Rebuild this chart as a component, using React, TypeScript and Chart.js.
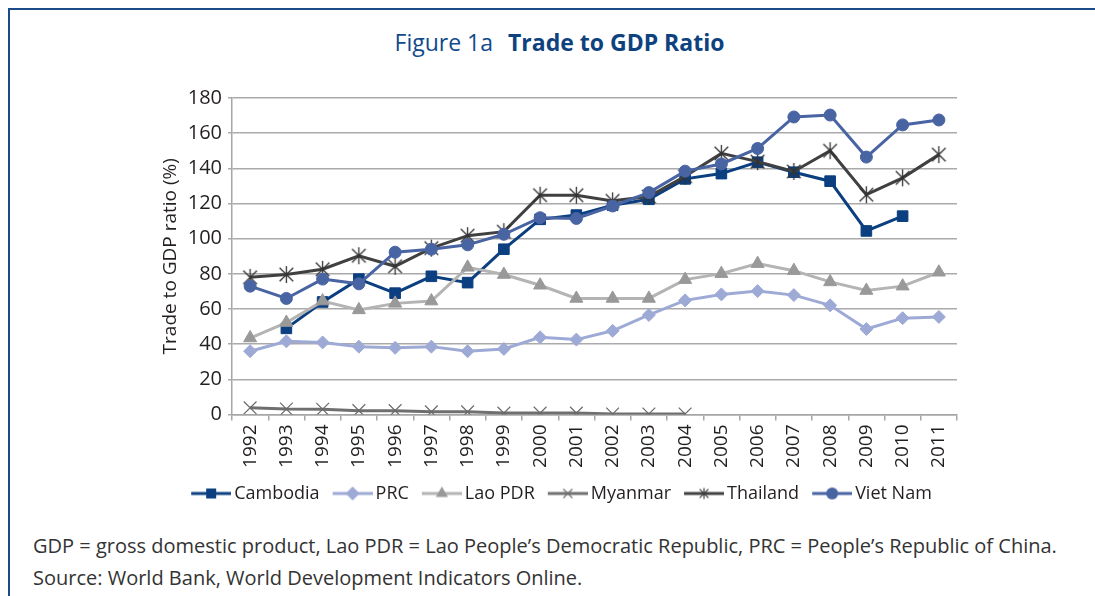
import React, { useEffect, useRef } from 'react';
import { Chart, registerables } from 'chart.js';

Chart.register(...registerables);

const years = ['1992', '1993', '1994', '1995', '1996', '1997', '1998', '1999', '2000', '2001', '2002', '2003', '2004', '2005', '2006', '2007', '2008', '2009', '2010', '2011'];

const cambodia = [null, 49, 64, 77, 69, 78.6, 75, 94, 111, 113.4, 119, 122.4, 134, 137, 143.5, 137.8, 132.7, 104.4, 112.8, null];
const prc = [36, 41.6, 41, 38.6, 37.9, 38.6, 36, 37.3, 43.9, 42.6, 47.6, 56.6, 64.9, 68.3, 70.2, 67.9, 62.1, 48.6, 54.8, 55.5];
const laoPdr = [43.5, 52.3, 64.5, 59.5, 63.2, 64.5, 83.7, 79.6, 73.5, 66, 66, 66, 76.7, 80.1, 85.8, 81.8, 75.4, 70.5, 73, 80.9];
const myanmar = [3.8, 3.1, 3.0, 2.2, 2.2, 1.5, 1.5, 0.8, 0.8, 0.8, 0.3, 0.3, 0.3, null, null, null, null, null, null, null];
const thailand = [78, 79.6, 82.6, 90.3, 84.3, 94.6, 101.7, 104, 124.7, 124.7, 121.5, 124, 135.5, 148.5, 143.8, 138.2, 150, 125, 134.6, 147.8];
const vietNam = [73, 66, 77, 74.3, 92.3, 94, 96.5, 102.5, 111.9, 111.5, 118.6, 126.2, 138.4, 142.5, 151.3, 169.2, 170.3, 146.4, 164.7, 167.5];

const yMin = 0;
const yMax = 180;
const yStep = 20;

const FONT = "'Open Sans', 'DejaVu Sans', sans-serif";
const TEXT = '#231f20';

type MarkerKind = 'rect' | 'diamond' | 'triangle' | 'x' | 'star' | 'circle';

function drawMarker(ctx: CanvasRenderingContext2D, kind: MarkerKind, x: number, y: number, r: number, color: string, lw: number) {
  ctx.save();
  ctx.fillStyle = color;
  ctx.strokeStyle = color;
  ctx.lineWidth = lw;
  ctx.beginPath();
  switch (kind) {
    case 'rect':
      ctx.rect(x - r, y - r, 2 * r, 2 * r);
      ctx.fill();
      break;
    case 'diamond':
      ctx.moveTo(x, y - r);
      ctx.lineTo(x + r, y);
      ctx.lineTo(x, y + r);
      ctx.lineTo(x - r, y);
      ctx.closePath();
      ctx.fill();
      break;
    case 'triangle':
      ctx.moveTo(x, y - r);
      ctx.lineTo(x + r * 0.866, y + r * 0.5);
      ctx.lineTo(x - r * 0.866, y + r * 0.5);
      ctx.closePath();
      ctx.fill();
      break;
    case 'x':
      ctx.moveTo(x - r, y - r);
      ctx.lineTo(x + r, y + r);
      ctx.moveTo(x + r, y - r);
      ctx.lineTo(x - r, y + r);
      ctx.stroke();
      break;
    case 'star':
      ctx.moveTo(x - r * 0.8, y - r * 0.8);
      ctx.lineTo(x + r * 0.8, y + r * 0.8);
      ctx.moveTo(x + r * 0.8, y - r * 0.8);
      ctx.lineTo(x - r * 0.8, y + r * 0.8);
      ctx.moveTo(x, y - r);
      ctx.lineTo(x, y + r);
      ctx.stroke();
      break;
    case 'circle':
      ctx.arc(x, y, r, 0, Math.PI * 2);
      ctx.fill();
      break;
  }
  ctx.restore();
}

function makeLegendImage(lineColor: string, markerColor: string, kind: MarkerKind, r: number, lw: number) {
  const c = document.createElement('canvas');
  c.width = 49;
  c.height = 18;
  const ctx = c.getContext('2d')!;
  ctx.strokeStyle = lineColor;
  ctx.lineWidth = 3;
  ctx.beginPath();
  ctx.moveTo(9, 9);
  ctx.lineTo(49, 9);
  ctx.stroke();
  drawMarker(ctx, kind, 29, 9, r, markerColor, lw);
  return c;
}

function makeStarPoint(color: string) {
  const c = document.createElement('canvas');
  c.width = 19;
  c.height = 19;
  const ctx = c.getContext('2d')!;
  drawMarker(ctx, 'star', 9.5, 9.5, 8.5, color, 1.3);
  return c;
}

export default function App() {
  const ref = useRef<HTMLCanvasElement | null>(null);

  useEffect(() => {
    if (!ref.current) return;
    const legendImgs = [
      makeLegendImage('#0b3f80', '#0b3f80', 'rect', 5, 1),
      makeLegendImage('#9eaad6', '#9eaad6', 'diamond', 7, 1),
      makeLegendImage('#b4b4b4', '#999999', 'triangle', 7, 1),
      makeLegendImage('#707070', '#707070', 'x', 4.5, 1.2),
      makeLegendImage('#404040', '#404040', 'star', 5.5, 1.2),
      makeLegendImage('#4964a3', '#4964a3', 'circle', 6, 1),
    ];
    const starPoint = makeStarPoint('#333333');

    const chart = new Chart(ref.current, {
      type: 'line',
      data: {
        labels: years,
        datasets: [
          {
            label: 'Cambodia', data: cambodia, order: 6,
            borderColor: '#0b3f80', backgroundColor: '#0b3f80', borderWidth: 3,
            pointStyle: 'rect', pointRadius: 7.5, pointBackgroundColor: '#0b3f80', pointBorderColor: '#0b3f80', pointBorderWidth: 1,
          },
          {
            label: 'PRC', data: prc, order: 5,
            borderColor: '#9eaad6', backgroundColor: '#9eaad6', borderWidth: 3,
            pointStyle: 'rectRot', pointRadius: 6.5, pointBackgroundColor: '#9eaad6', pointBorderColor: '#9eaad6', pointBorderWidth: 1,
          },
          {
            label: 'Lao PDR', data: laoPdr, order: 4,
            borderColor: '#b4b4b4', backgroundColor: '#999999', borderWidth: 3,
            pointStyle: 'triangle', pointRadius: 7.5, pointBackgroundColor: '#999999', pointBorderColor: '#999999', pointBorderWidth: 1,
          },
          {
            label: 'Myanmar', data: myanmar, order: 3,
            borderColor: '#6f6f6f', backgroundColor: '#6f6f6f', borderWidth: 3,
            pointStyle: 'crossRot', pointRadius: 9, pointBackgroundColor: '#6a6a6a', pointBorderColor: '#6a6a6a', pointBorderWidth: 1.2,
          },
          {
            label: 'Thailand', data: thailand, order: 2,
            borderColor: '#404040', backgroundColor: '#404040', borderWidth: 3,
            pointStyle: starPoint as any, pointRadius: 9,
          },
          {
            label: 'Viet Nam', data: vietNam, order: 1,
            borderColor: '#4964a3', backgroundColor: '#4964a3', borderWidth: 3,
            pointStyle: 'circle', pointRadius: 6, pointBackgroundColor: '#4964a3', pointBorderColor: '#4964a3', pointBorderWidth: 1,
          },
        ],
      },
      options: {
        responsive: false,
        animation: false,
        layout: { padding: { left: 23, right: 13, top: 15, bottom: 7.5 } },
        elements: { line: { tension: 0 } },
        plugins: {
          tooltip: { enabled: false },
          legend: {
            position: 'bottom',
            labels: {
              usePointStyle: true,
              pointStyleWidth: 37,
              padding: 10,
              color: TEXT,
              font: { family: FONT, size: 18 },
              generateLabels: (c: any) =>
                c.data.datasets.map((ds: any, i: number) => ({
                  text: ds.label,
                  pointStyle: legendImgs[i],
                  fillStyle: 'rgba(0,0,0,0)',
                  strokeStyle: 'rgba(0,0,0,0)',
                  lineWidth: 0,
                  hidden: false,
                  datasetIndex: i,
                  fontColor: TEXT,
                })),
            },
          },
        },
        scales: {
          x: {
            type: 'category',
            offset: true,
            grid: { display: true, drawOnChartArea: false, drawTicks: true, tickLength: 6, color: '#a6a6a6', lineWidth: 1.5, offset: true },
            border: { display: true, color: '#a6a6a6', width: 1.5 },
            ticks: { autoSkip: false, minRotation: 90, maxRotation: 90, padding: 4, color: TEXT, font: { family: FONT, size: 19 } },
            afterFit: (s: any) => { s.height = 60; },
          },
          y: {
            min: yMin,
            max: yMax,
            ticks: { stepSize: yStep, padding: 6, color: TEXT, font: { family: FONT, size: 20 } },
            grid: { color: '#aaaaaa', lineWidth: 1.5, tickLength: 4 },
            border: { display: true, color: '#a6a6a6', width: 1.5 },
            title: { display: true, text: 'Trade to GDP ratio (%)', color: TEXT, padding: 0, font: { family: FONT, size: 19, lineHeight: 0.8 } },
            afterFit: (s: any) => { s.width = 69; },
          },
        },
      } as any,
    });
    return () => chart.destroy();
  }, []);

  return (
    <div style={{ position: 'absolute', left: 0, top: 0, width: 1095, height: 596, overflow: 'hidden', background: '#ffffff' }}>
      <div style={{ position: 'absolute', left: 8, top: 8, width: 1087, height: 588, boxSizing: 'border-box', borderTop: '2px solid #1b4b87', borderLeft: '2px solid #1b4b87' }} />
      <div style={{ position: 'absolute', left: 0, top: 30.5, width: 1119, textAlign: 'center', fontFamily: FONT, fontSize: 23, lineHeight: '23px', color: '#124a8c', whiteSpace: 'nowrap' }}>
        <span>Figure 1a</span>
        <span style={{ fontWeight: 700, marginLeft: 15, color: '#0d427f' }}>Trade to GDP Ratio</span>
      </div>
      <canvas ref={ref} width={830} height={440} style={{ position: 'absolute', left: 140, top: 80, width: 830, height: 440 }} />
      <div style={{ position: 'absolute', left: 33, top: 536.2, fontFamily: FONT, fontSize: 20, lineHeight: '20px', color: '#333333', whiteSpace: 'nowrap' }}>
        GDP = gross domestic product, Lao PDR = Lao People’s Democratic Republic, PRC = People’s Republic of China.
      </div>
      <div style={{ position: 'absolute', left: 33, top: 568.2, fontFamily: FONT, fontSize: 20, lineHeight: '20px', color: '#333333', whiteSpace: 'nowrap' }}>
        Source: World Bank, World Development Indicators Online.
      </div>
    </div>
  );
}
